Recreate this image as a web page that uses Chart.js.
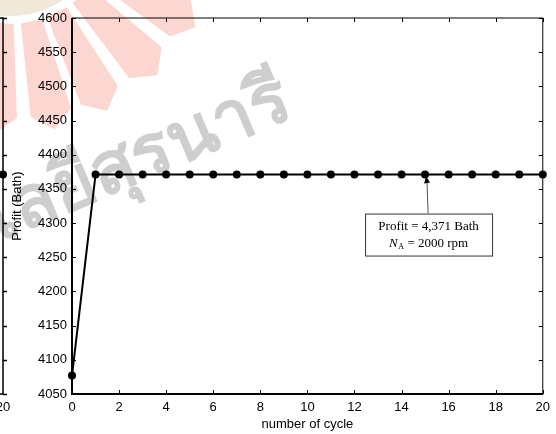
<!DOCTYPE html>
<html lang="en">
<head>
    <meta charset="UTF-8">
    <title>Profit vs number of cycle</title>
    <script src="https://cdn.jsdelivr.net/npm/chart.js"></script>
    <style>
        body { margin: 0; background: #fff; }
        canvas { display: block; }
    </style>
</head>
<body>
    <canvas id="profitChart" width="556" height="434"></canvas>

    <script>
        // cycle number and profit reached at each cycle
        const cycles = [0, 1, 2, 3, 4, 5, 6, 7, 8, 9, 10, 11, 12, 13, 14, 15, 16, 17, 18, 19, 20];
        const profit = [4077, 4371, 4371, 4371, 4371, 4371, 4371, 4371, 4371, 4371, 4371,
                        4371, 4371, 4371, 4371, 4371, 4371, 4371, 4371, 4371, 4371];
        const xTicks = [0, 2, 4, 6, 8, 10, 12, 14, 16, 18, 20];
        const yTicks = [4050, 4100, 4150, 4200, 4250, 4300, 4350, 4400, 4450, 4500, 4550, 4600];
        const noteCycle = 15;
        const noteLines = ['Profit = 4,371 Bath', '2000 rpm'];

        const tickFont = { family: 'Arial, "Liberation Sans", sans-serif', size: 13 };

        // faint university watermark behind the plot
        const watermark = {
            id: 'watermark',
            beforeDraw(chart) {
                const ctx = chart.ctx;
                ctx.save();
                const cx = 10, cy = -80;
                ctx.fillStyle = 'rgba(236, 226, 208, 0.8)';
                ctx.beginPath();
                ctx.arc(cx, cy, 96, 0, Math.PI * 2);
                ctx.fill();
                ctx.fillStyle = 'rgb(252, 214, 208)';
                const rays = [[24, 36], [40, 53], [57, 69], [72, 84], [88, 100], [103, 116]];
                const pt = (r, a) => [cx + r * Math.cos(a * Math.PI / 180), cy + r * Math.sin(a * Math.PI / 180)];
                rays.forEach(([a0, a1]) => {
                    const p = [pt(104, a0), pt(198, a0), pt(214, (a0 + a1) / 2), pt(198, a1), pt(104, a1)];
                    ctx.beginPath();
                    ctx.moveTo(p[0][0], p[0][1]);
                    p.slice(1).forEach(q => ctx.lineTo(q[0], q[1]));
                    ctx.closePath();
                    ctx.fill();
                });
                ctx.translate(296, 116);
                ctx.rotate(-0.40);
                ctx.fillStyle = 'rgb(206, 206, 206)';
                ctx.font = 'bold 72px "Noto Sans", sans-serif';
                ctx.textAlign = 'right';
                ctx.textBaseline = 'alphabetic';
                ctx.fillText('มหาวิทยาลัยเทคโนโลยีสุรนารี', 0, 0);
                ctx.restore();
            }
        };

        // box frame, inward ticks, neighbouring axis edge and the note
        const frame = {
            id: 'frame',
            afterDatasetsDraw(chart) {
                const ctx = chart.ctx;
                const { left, right, top, bottom } = chart.chartArea;
                const xs = chart.scales.x, ys = chart.scales.y;
                const t = 4;
                ctx.save();
                ctx.strokeStyle = '#000';

                ctx.lineWidth = 1;
                ctx.beginPath();
                ctx.moveTo(left, top); ctx.lineTo(right, top); ctx.lineTo(right, bottom);
                ctx.stroke();
                ctx.lineWidth = 2;
                ctx.beginPath();
                ctx.moveTo(left, top); ctx.lineTo(left, bottom); ctx.lineTo(right, bottom);
                ctx.stroke();

                ctx.lineWidth = 1;
                ctx.beginPath();
                xTicks.forEach(v => {
                    const px = Math.round(xs.getPixelForValue(v)) + 0.5;
                    ctx.moveTo(px, bottom); ctx.lineTo(px, bottom - t);
                    ctx.moveTo(px, top); ctx.lineTo(px, top + t);
                });
                yTicks.forEach(v => {
                    const py = Math.round(ys.getPixelForValue(v)) + 0.5;
                    ctx.moveTo(left, py); ctx.lineTo(left + t, py);
                    ctx.moveTo(right, py); ctx.lineTo(right - t, py);
                });
                ctx.stroke();

                // right edge of the neighbouring plot
                const ex = 3;
                ctx.lineWidth = 1.5;
                ctx.beginPath();
                ctx.moveTo(0, top); ctx.lineTo(ex, top); ctx.lineTo(ex, bottom); ctx.lineTo(0, bottom);
                yTicks.forEach(v => {
                    const py = Math.round(ys.getPixelForValue(v)) + 0.5;
                    ctx.moveTo(ex, py); ctx.lineTo(ex + t, py);
                });
                ctx.stroke();
                ctx.fillStyle = '#000';
                ctx.beginPath();
                ctx.arc(ex, ys.getPixelForValue(profit[profit.length - 1]), 4, 0, Math.PI * 2);
                ctx.fill();
                ctx.font = '13px Arial, "Liberation Sans", sans-serif';
                ctx.textAlign = 'center';
                ctx.textBaseline = 'middle';
                ctx.fillText('20', ex, 407);

                // note with arrow at the converged cycle
                const px = xs.getPixelForValue(noteCycle);
                const py = ys.getPixelForValue(profit[noteCycle]);
                const bx = px - 60, by = py + 39, bw = 127, bh = 42;
                ctx.strokeStyle = '#555';
                ctx.lineWidth = 1;
                ctx.beginPath();
                ctx.moveTo(px + 3, by); ctx.lineTo(px + 2, py + 8);
                ctx.stroke();
                ctx.fillStyle = '#000';
                ctx.beginPath();
                ctx.moveTo(px + 1, py + 2); ctx.lineTo(px - 1, py + 9); ctx.lineTo(px + 5, py + 8);
                ctx.closePath();
                ctx.fill();

                ctx.fillStyle = '#fff';
                ctx.fillRect(bx, by, bw, bh);
                ctx.strokeStyle = '#333';
                ctx.strokeRect(bx + 0.5, by + 0.5, bw, bh);

                ctx.fillStyle = '#000';
                ctx.font = '13px "Liberation Serif", "Times New Roman", serif';
                ctx.textAlign = 'center';
                ctx.textBaseline = 'middle';
                const cx = bx + bw / 2;
                ctx.fillText(noteLines[0], cx, by + 13);
                // second line: italic N with subscript A
                ctx.textAlign = 'left';
                const nW = ctx.measureText('N').width;
                ctx.font = '8px "Liberation Serif", serif';
                const aW = ctx.measureText('A').width;
                ctx.font = '13px "Liberation Serif", serif';
                const rest = ' = ' + noteLines[1];
                const rW = ctx.measureText(rest).width;
                let x0 = cx - (nW + aW + rW) / 2;
                const y2 = by + 30;
                ctx.font = 'italic 13px "Liberation Serif", serif';
                ctx.fillText('N', x0, y2);
                ctx.font = '8px "Liberation Serif", serif';
                ctx.fillText('A', x0 + nW, y2 + 3);
                ctx.font = '13px "Liberation Serif", serif';
                ctx.fillText(rest, x0 + nW + aW, y2);
                ctx.restore();
            }
        };

        new Chart(document.getElementById('profitChart').getContext('2d'), {
            type: 'line',
            data: {
                labels: cycles,
                datasets: [{
                    data: cycles.map((c, i) => ({ x: c, y: profit[i] })),
                    borderColor: '#000',
                    backgroundColor: '#000',
                    borderWidth: 2,
                    pointRadius: 4,
                    pointBackgroundColor: '#000',
                    pointBorderWidth: 0,
                    tension: 0,
                    clip: false
                }]
            },
            options: {
                responsive: false,
                animation: false,
                layout: { padding: { top: 18, right: 9, left: 0, bottom: 0 } },
                plugins: { legend: { display: false }, tooltip: { enabled: false } },
                scales: {
                    x: {
                        type: 'linear',
                        min: 0,
                        max: 20,
                        afterBuildTicks: s => { s.ticks = xTicks.map(v => ({ value: v })); },
                        afterFit: s => { s.height = 40; },
                        grid: { display: false, drawTicks: false },
                        border: { display: false },
                        ticks: { font: tickFont, color: '#000', padding: 6, maxRotation: 0, callback: v => String(v) },
                        title: {
                            display: true,
                            text: 'number of cycle',
                            font: tickFont,
                            color: '#000',
                            padding: { top: 0, bottom: 2 }
                        }
                    },
                    y: {
                        min: 4050,
                        max: 4600,
                        afterBuildTicks: s => { s.ticks = yTicks.map(v => ({ value: v })); },
                        afterFit: s => { s.width = 72; },
                        grid: { display: false, drawTicks: false },
                        border: { display: false },
                        ticks: { font: tickFont, color: '#000', padding: 5, callback: v => String(v) },
                        title: {
                            display: true,
                            text: 'Profit (Bath)',
                            font: tickFont,
                            color: '#000',
                            padding: { top: 10, bottom: 0 }
                        }
                    }
                }
            },
            plugins: [watermark, frame]
        });
    </script>
</body>
</html>
